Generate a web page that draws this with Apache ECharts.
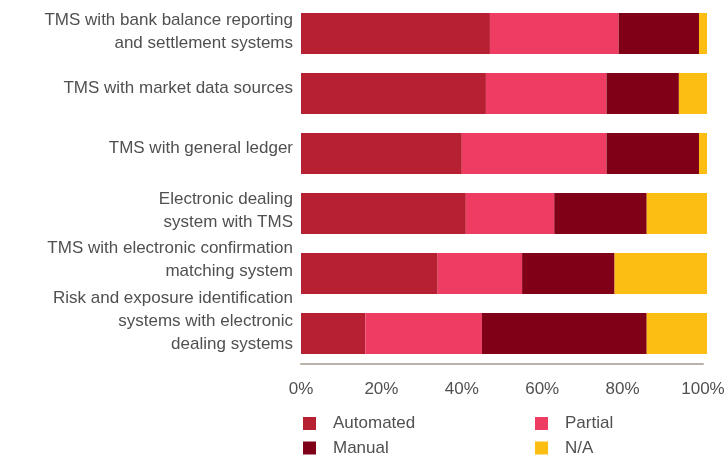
<!DOCTYPE html>
<html>
<head>
<meta charset="utf-8">
<script src="https://cdn.jsdelivr.net/npm/echarts@6/dist/echarts.min.js"></script>
<style>
  html, body { margin: 0; padding: 0; background: #fff; }
  #chart { width: 727px; height: 455px; }
</style>
</head>
<body>
<div id="chart"></div>
<script>
const categories = [
  'TMS with bank balance reporting\nand settlement systems',
  'TMS with market data sources',
  'TMS with general ledger',
  'Electronic dealing\nsystem with TMS',
  'TMS with electronic confirmation\nmatching system',
  'Risk and exposure identification\nsystems with electronic\ndealing systems'
]
// rounded percentages, each row adds up to 101
const automated = [47, 46, 40, 41, 34, 16]
const partial = [32, 30, 36, 22, 21, 29]
const manual = [20, 18, 23, 23, 23, 41]
const na = [2, 7, 2, 15, 23, 15]
// labels in the original sit a little above their bars (px)
const labelLift = [2, 5, 5, 3, 14, 12]

const textColor = '#505050'
const font = 'Liberation Sans, Arial, sans-serif'

const chart = echarts.init(document.getElementById('chart'))

const bar = (name, data, color) => ({
  name,
  type: 'bar',
  stack: 'total',
  data,
  barWidth: 41,
  clip: false,
  itemStyle: { color },
  emphasis: { disabled: true }
})

// each label gets a blank spacer line underneath to lift it up
const rich = { t: { fontSize: 17, lineHeight: 23, color: textColor } }
labelLift.forEach((l, i) => {
  rich['s' + i] = { fontSize: 1, lineHeight: l * 2 }
})

const legendBase = {
  orient: 'vertical',
  top: 415,
  height: 60,
  padding: 0,
  icon: 'rect',
  itemWidth: 13,
  itemHeight: 13,
  itemGap: 7.5,
  selectedMode: false,
  textStyle: { color: textColor, fontSize: 17, padding: [0, 0, 0, 12] }
}

chart.setOption({
  animation: false,
  textStyle: { fontFamily: font },
  grid: { left: 301, right: 24, top: 3.5, height: 360, outerBoundsMode: 'none' },
  xAxis: {
    type: 'value',
    min: 0,
    max: 100,
    interval: 20,
    axisLine: { show: true, lineStyle: { color: '#b9b1aa', width: 2 } },
    axisTick: { show: false },
    splitLine: { show: false },
    axisLabel: {
      formatter: '{value}%',
      color: textColor,
      fontSize: 17,
      margin: 17
    }
  },
  yAxis: {
    type: 'category',
    inverse: true,
    data: categories,
    axisLine: { show: false },
    axisTick: { show: false },
    axisLabel: {
      interval: 0,
      hideOverlap: false,
      margin: 8,
      align: 'right',
      formatter: (value, idx) =>
        value.split('\n').map(line => '{t|' + line + '}').join('\n') +
        '\n{s' + idx + '| }',
      rich
    }
  },
  legend: [
    Object.assign({ data: ['Automated', 'Manual'], left: 303 }, legendBase),
    Object.assign({ data: ['Partial', 'N/A'], left: 535 }, legendBase)
  ],
  series: [
    bar('Automated', automated, '#b71f33'),
    bar('Partial', partial, '#ef3c62'),
    bar('Manual', manual, '#800018'),
    bar('N/A', na, '#fcbe12')
  ]
})
</script>
</body>
</html>
